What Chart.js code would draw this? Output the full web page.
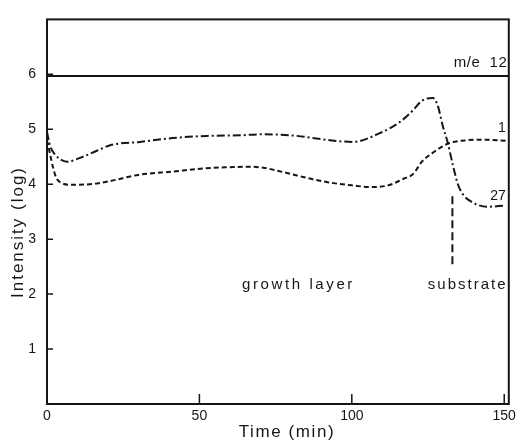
<!DOCTYPE html>
<html>
<head>
<meta charset="utf-8">
<script src="https://cdn.jsdelivr.net/npm/chart.js@4/dist/chart.umd.min.js"></script>
<style>
  body { margin: 0; background: #fff; }
</style>
</head>
<body>
<canvas id="myChart" width="520" height="448"></canvas>
<script>
// m/e 12 (flat line)
const me12Time = [0, 151.5];
const me12Int = [5.97, 5.97];

// m/e 1 (dashed)
const me1Time = [0, 1, 2, 3, 4.5, 8, 14, 20, 30, 41, 52, 60, 66, 71, 76, 82, 88, 94, 100, 106, 112, 117, 120, 123, 126.5, 129.5, 132, 137.7, 143, 151];
const me1Int = [4.8, 4.55, 4.3, 4.12, 4.03, 3.99, 4.0, 4.05, 4.17, 4.23, 4.29, 4.31, 4.32, 4.30, 4.24, 4.16, 4.08, 4.02, 3.98, 3.95, 3.98, 4.1, 4.18, 4.41, 4.57, 4.68, 4.75, 4.80, 4.81, 4.79];

// m/e 27 (dash-dot)
const me27Time = [0, 1, 2.5, 6.6, 10.8, 16.4, 20.7, 30.5, 41.3, 52.5, 63.3, 70.8, 82, 92.8, 100.3, 109.2, 115.7, 120, 123, 126.6, 128.2, 129.8, 131.5, 133.1, 134.8, 136.4, 138.7, 144.3, 150];
const me27Int = [4.95, 4.7, 4.55, 4.41, 4.48, 4.61, 4.71, 4.77, 4.84, 4.88, 4.89, 4.91, 4.88, 4.80, 4.77, 4.93, 5.13, 5.34, 5.52, 5.57, 5.43, 5.07, 4.75, 4.36, 4.0, 3.82, 3.70, 3.59, 3.61];

// substrate marker
const markTime = [133, 133];
const markInt = [3.78, 2.52];

const xTicks = [0, 50, 100, 150];
const yTicks = [1, 2, 3, 4, 5, 6];

const ink = '#161616';

function pts(xs, ys) {
	return xs.map((x, i) => ({ x: x, y: ys[i] }));
}

const frame = {
	id: 'frame',
	afterDatasetsDraw(chart) {
		const ctx = chart.ctx;
		const a = chart.chartArea;
		const xs = chart.scales.x;
		const ys = chart.scales.y;
		ctx.save();
		ctx.strokeStyle = ink;
		ctx.lineWidth = 2;
		ctx.strokeRect(a.left, a.top, a.right - a.left, a.bottom - a.top);
		ctx.lineWidth = 1.5;
		ctx.beginPath();
		// inward ticks
		xTicks.forEach(v => {
			const px = xs.getPixelForValue(v);
			ctx.moveTo(px, a.bottom);
			ctx.lineTo(px, a.bottom - 10);
		});
		yTicks.forEach(v => {
			const py = ys.getPixelForValue(v);
			ctx.moveTo(a.left, py);
			ctx.lineTo(a.left + 6, py);
		});
		ctx.stroke();

		ctx.fillStyle = ink;
		ctx.textBaseline = 'middle';
		const put = (txt, t, v, size, align, sp) => {
			ctx.font = size + 'px "Liberation Sans", sans-serif';
			ctx.letterSpacing = sp + 'px';
			ctx.textAlign = align;
			ctx.fillText(txt, xs.getPixelForValue(t), ys.getPixelForValue(v));
		};
		put('m/e  12', 151, 6.2, 15, 'right', 0.5);
		put('1', 150.5, 5.02, 14, 'right', 0);
		put('27', 150.5, 3.79, 14, 'right', 0);
		put('growth layer', 82.5, 2.17, 15, 'center', 2.6);
		put('substrate', 138, 2.17, 15, 'center', 2);

		// axis titles
		ctx.font = '17px "Liberation Sans", sans-serif';
		ctx.letterSpacing = '1.6px';
		ctx.textAlign = 'center';
		ctx.fillText('Time (min)', 287, 432);
		ctx.font = '17px "Liberation Sans", sans-serif';
		ctx.letterSpacing = '2px';
		ctx.translate(18, 232);
		ctx.rotate(-Math.PI / 2);
		ctx.fillText('Intensity (log)', 0, 0);
		ctx.restore();
	}
};

window.onload = () => {
	const ctx = document.getElementById('myChart').getContext('2d');
	new Chart(ctx, {
		type: 'line',
		data: {
			datasets: [
				{ data: pts(me12Time, me12Int), borderColor: ink, borderWidth: 1.8 },
				{ data: pts(me1Time, me1Int), borderColor: ink, borderWidth: 2, borderDash: [5, 3], cubicInterpolationMode: 'monotone' },
				{ data: pts(me27Time, me27Int), borderColor: ink, borderWidth: 2, borderDash: [8, 3, 2, 3], cubicInterpolationMode: 'monotone' },
				{ data: pts(markTime, markInt), borderColor: ink, borderWidth: 2, borderDash: [8, 4] }
			]
		},
		options: {
			responsive: false,
			animation: false,
			layout: { padding: { top: 11, right: 10, left: 0, bottom: 0 } },
			elements: { point: { radius: 0 } },
			plugins: { legend: { display: false }, tooltip: { enabled: false } },
			scales: {
				x: {
					type: 'linear',
					min: 0,
					max: 151.5,
					grid: { display: false, drawTicks: false },
					border: { display: false },
					afterBuildTicks: s => { s.ticks = xTicks.map(v => ({ value: v })); },
					afterFit: s => { s.height = 44; },
					ticks: { color: ink, padding: 4, maxRotation: 0, font: { family: 'Liberation Sans', size: 14 } }
				},
				y: {
					min: 0,
					max: 7,
					grid: { display: false, drawTicks: false },
					border: { display: false },
					afterBuildTicks: s => { s.ticks = yTicks.map(v => ({ value: v })); },
					afterFit: s => { s.width = 47; },
					ticks: { color: ink, padding: 11, font: { family: 'Liberation Sans', size: 14 } }
				}
			}
		},
		plugins: [frame]
	});
};
</script>
</body>
</html>
